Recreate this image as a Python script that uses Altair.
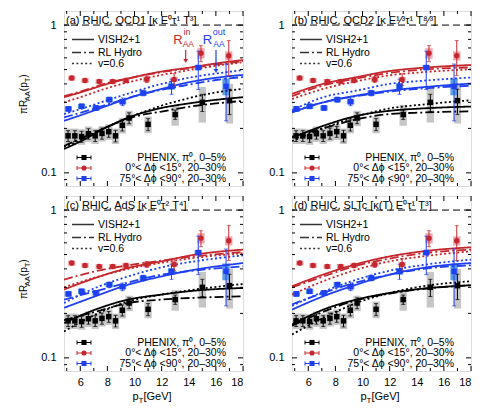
import altair as alt
import pandas as pd

# ---------------- values ----------------
# PHENIX pi0 R_AA, 0-5 %
k_pt = [5.1, 5.6, 6.1, 6.6, 7.1, 7.6, 8.1, 8.6, 9.1, 9.6, 11.0, 13.0, 15.0, 17.0]
k_val = [0.178, 0.178, 0.176, 0.184, 0.178, 0.185, 0.190, 0.178, 0.210, 0.235, 0.213, 0.248, 0.300, 0.308]
k_err = [0.015, 0.015, 0.015, 0.015, 0.015, 0.016, 0.016, 0.016, 0.018, 0.020, 0.020, 0.018, 0.040, 0.060]
k_sys = [0.12, 0.12, 0.12, 0.12, 0.12, 0.12, 0.12, 0.12, 0.12, 0.12, 0.13, 0.16, 0.27, 0.30]
# in-plane 0-15 deg, 20-30 %
r_pt = [5.37, 6.35, 7.4, 8.39, 9.37, 10.9, 12.92, 14.9, 16.95]
r_val = [0.438, 0.422, 0.415, 0.415, 0.422, 0.429, 0.429, 0.645, 0.620]
r_err = [0.012, 0.012, 0.012, 0.013, 0.014, 0.020, 0.040, 0.080, 0.165]
r_sys = [0.04, 0.04, 0.04, 0.04, 0.04, 0.04, 0.04, 0.08, 0.07]
# out-of-plane 75-90 deg, 20-30 %
b_pt = [5.12, 6.1, 7.16, 8.14, 9.12, 10.64, 12.73, 14.7, 16.75]
b_val = [0.271, 0.282, 0.275, 0.313, 0.303, 0.347, 0.385, 0.516, 0.385]
b_err = [0.010, 0.010, 0.010, 0.012, 0.018, 0.015, 0.045, 0.150, 0.160]
b_sys = [0.04, 0.04, 0.04, 0.04, 0.04, 0.04, 0.05, 0.04, 0.13]

STYLES = ["VISH2+1", "RL Hydro", "v=0.6"]

# model curves, panel (a) QCD1
pt_a = [4.8, 6, 8, 10, 12, 14, 16, 18]
a_black = {"VISH2+1": [0.145, 0.163, 0.205, 0.245, 0.275, 0.295, 0.312, 0.325],
           "RL Hydro": [0.152, 0.170, 0.205, 0.240, 0.260, 0.280, 0.295, 0.307],
           "v=0.6": [0.150, 0.165, 0.205, 0.245, 0.285, 0.320, 0.350, 0.370]}
a_red = {"VISH2+1": [0.325, 0.350, 0.400, 0.445, 0.485, 0.515, 0.550, 0.580],
         "RL Hydro": [0.330, 0.355, 0.405, 0.445, 0.480, 0.510, 0.540, 0.570],
         "v=0.6": [0.300, 0.325, 0.375, 0.420, 0.460, 0.495, 0.530, 0.560]}
a_blue = {"VISH2+1": [0.225, 0.245, 0.285, 0.330, 0.370, 0.410, 0.440, 0.460],
          "RL Hydro": [0.237, 0.255, 0.290, 0.330, 0.365, 0.395, 0.425, 0.445],
          "v=0.6": [0.250, 0.270, 0.310, 0.355, 0.400, 0.440, 0.470, 0.495]}

# panels (b), (c), (d)
pt_bcd = [4.8, 7.1, 9.55, 12.0, 14.45, 18.0]
b_black_c = {"VISH2+1": [0.173, 0.208, 0.243, 0.263, 0.273, 0.281],
             "RL Hydro": [0.176, 0.200, 0.230, 0.250, 0.256, 0.261],
             "v=0.6": [0.164, 0.200, 0.240, 0.273, 0.290, 0.310]}
b_red_c = {"VISH2+1": [0.342, 0.400, 0.444, 0.489, 0.514, 0.537],
           "RL Hydro": [0.330, 0.390, 0.435, 0.475, 0.500, 0.517],
           "v=0.6": [0.316, 0.370, 0.417, 0.457, 0.480, 0.502]}
b_blue_c = {"VISH2+1": [0.256, 0.300, 0.333, 0.360, 0.380, 0.402],
            "RL Hydro": [0.260, 0.300, 0.330, 0.355, 0.372, 0.389],
            "v=0.6": [0.265, 0.325, 0.360, 0.400, 0.420, 0.442]}

c_black = {"VISH2+1": [0.172, 0.212, 0.248, 0.268, 0.285, 0.297],
           "RL Hydro": [0.180, 0.205, 0.235, 0.248, 0.255, 0.261],
           "v=0.6": [0.151, 0.196, 0.241, 0.268, 0.290, 0.316]}
c_red = {"VISH2+1": [0.290, 0.347, 0.406, 0.450, 0.499, 0.540],
         "RL Hydro": [0.338, 0.385, 0.423, 0.455, 0.486, 0.520],
         "v=0.6": [0.300, 0.350, 0.400, 0.440, 0.475, 0.510]}
c_blue = {"VISH2+1": [0.218, 0.261, 0.313, 0.356, 0.395, 0.438],
          "RL Hydro": [0.248, 0.282, 0.324, 0.366, 0.390, 0.416],
          "v=0.6": [0.235, 0.297, 0.356, 0.410, 0.450, 0.494]}

d_black = {"VISH2+1": [0.168, 0.212, 0.248, 0.275, 0.294, 0.310],
           "RL Hydro": [0.165, 0.205, 0.245, 0.272, 0.293, 0.310],
           "v=0.6": [0.144, 0.186, 0.235, 0.275, 0.305, 0.330]}
d_red = {"VISH2+1": [0.305, 0.366, 0.431, 0.486, 0.526, 0.560],
         "RL Hydro": [0.300, 0.355, 0.420, 0.470, 0.510, 0.540],
         "v=0.6": [0.268, 0.330, 0.395, 0.450, 0.486, 0.526]}
d_blue = {"VISH2+1": [0.212, 0.261, 0.313, 0.366, 0.406, 0.438],
          "RL Hydro": [0.230, 0.275, 0.324, 0.366, 0.400, 0.423],
          "v=0.6": [0.225, 0.280, 0.338, 0.389, 0.425, 0.462]}

panel_labels = {
    "a": "(a) RHIC, QCD1 [\u03ba E\u2070\u03c4\u00b9 T\u00b3]",
    "b": "(b) RHIC, QCD2 [\u03ba E\u00b9\u2044\u00b3\u03c4\u00b9 T\u2078\u2044\u00b3]",
    "c": "(c) RHIC, AdS [\u03ba E\u2070\u03c4\u00b2 T\u2074]",
    "d": "(d) RHIC, SLTc [\u03ba(T) E\u2070\u03c4\u00b9 T\u00b3]",
}
data_labels = ["PHENIX, \u03c0\u2070, 0\u20135%",
               "0\u00b0< \u0394\u03d5 <15\u00b0, 20\u201330%",
               "75\u00b0< \u0394\u03d5 <90\u00b0, 20\u201330%"]

x_major = [6, 8, 10, 12, 14, 16, 18]
x_minor = [5, 7, 9, 11, 13, 15, 17]
y_major = [0.1, 1.0]
y_minor = [0.09, 0.2, 0.3, 0.4, 0.5, 0.6, 0.7, 0.8, 0.9]

# ---------------- styling ----------------
FONT = "Liberation Sans"
W, H = 179, 175
RED = "#c4282e"
BLUE = "#1f3ff0"
GRPS = ["k", "r", "b"]
LINE_COLORS = ["#000000", RED, BLUE]
BOX_COLORS = ["#c6c6c6", "#f2a4ab", "#5a9ee4"]
DASHES = [[1, 0], [9, 3, 2, 3], [2, 2.4]]

xs = alt.Scale(domain=[4.8, 18], nice=False, zero=False)
ys = alt.Scale(type="log", domain=[0.0815, 1.245], nice=False)

# ---------------- tables ----------------
rows = []
for g, pts, vals, errs, syss in (("k", k_pt, k_val, k_err, k_sys),
                                 ("r", r_pt, r_val, r_err, r_sys),
                                 ("b", b_pt, b_val, b_err, b_sys)):
    for p, v, e, s in zip(pts, vals, errs, syss):
        rows.append({"grp": g, "pt": p, "val": v, "lo": v - e, "hi": v + e,
                     "slo": v * (1 - s), "shi": v * (1 + s),
                     "x1": p - 0.27, "x2": p + 0.27})
pts_df = pd.DataFrame(rows)

curve_sets = {
    "a": (pt_a, a_black, a_red, a_blue),
    "b": (pt_bcd, b_black_c, b_red_c, b_blue_c),
    "c": (pt_bcd, c_black, c_red, c_blue),
    "d": (pt_bcd, d_black, d_red, d_blue),
}


def curve_df(p):
    grid, kk, rr, bb = curve_sets[p]
    out = []
    for g, dct in (("k", kk), ("r", rr), ("b", bb)):
        for st in STYLES:
            for x, v in zip(grid, dct[st]):
                out.append({"grp": g, "style": st, "pt": x, "val": v})
    return pd.DataFrame(out)


ONE = pd.DataFrame({"z": [0]})


def txt(t, x, y, size=11, color="black", align="left", baseline="middle", angle=0):
    return alt.Chart(pd.DataFrame({"t": [t]})).mark_text(
        align=align, baseline=baseline, fontSize=size, color=color, angle=angle, font=FONT
    ).encode(text="t:N", x=alt.value(x), y=alt.value(y))


def vrule(x, y1, y2, color="black", width=1.0, dash=None):
    kw = dict(color=color, strokeWidth=width)
    if dash:
        kw["strokeDash"] = dash
    return alt.Chart(ONE).mark_rule(**kw).encode(x=alt.value(x), y=alt.value(y1), y2=alt.value(y2))


def hrule(x1, x2, y, color="black", width=1.0, dash=None):
    kw = dict(color=color, strokeWidth=width)
    if dash:
        kw["strokeDash"] = dash
    return alt.Chart(ONE).mark_rule(**kw).encode(x=alt.value(x1), x2=alt.value(x2), y=alt.value(y))


def panel(p, bottom, left):
    if bottom:
        x_axis = alt.Axis(values=x_major, title=None, ticks=False, domain=False, grid=False,
                          labelPadding=5, labelFontSize=11, labelFont=FONT, labelColor="black")
    else:
        x_axis = None
    y_axis = alt.Axis(values=y_major, format="~g", title=None, ticks=False, domain=False, grid=False,
                      labelPadding=8, labelFontSize=11, labelFont=FONT, labelColor="black")

    def X(f):
        return alt.X(f, scale=xs, axis=x_axis)

    def Y(f):
        return alt.Y(f, scale=ys, axis=y_axis)

    colr = alt.Color("grp:N", scale=alt.Scale(domain=GRPS, range=LINE_COLORS), legend=None)
    base = alt.Chart(pts_df)
    L = []
    # systematic boxes
    L.append(base.mark_rect().encode(
        x=X("x1:Q"), x2="x2:Q", y=Y("slo:Q"), y2="shi:Q",
        fill=alt.Fill("grp:N", scale=alt.Scale(domain=GRPS, range=BOX_COLORS), legend=None)))
    # unity line and panel label
    L.append(alt.Chart(pd.DataFrame({"v": [1.0]})).mark_rule(color="black", strokeWidth=1, strokeDash=[7, 4])
             .encode(y=Y("v:Q")))
    L.append(alt.Chart(pd.DataFrame({"v": [1.0], "t": [panel_labels[p]]})).mark_text(
        align="left", baseline="alphabetic", fontSize=11, font=FONT, dy=-1.5, color="black")
        .encode(x=alt.value(2), y=Y("v:Q"), text="t:N"))
    # model curves
    L.append(alt.Chart(curve_df(p)).mark_line(strokeWidth=1.8, interpolate="monotone", clip=True).encode(
        x=X("pt:Q"), y=Y("val:Q"), color=colr,
        strokeDash=alt.StrokeDash("style:N", scale=alt.Scale(domain=STYLES, range=DASHES), legend=None)))
    # data: error bars, caps, markers
    L.append(base.mark_rule(strokeWidth=1).encode(x=X("pt:Q"), y=Y("lo:Q"), y2="hi:Q", color=colr))
    for f in ("lo", "hi"):
        L.append(base.mark_tick(orient="horizontal", size=4, thickness=1).encode(
            x=X("pt:Q"), y=Y(f + ":Q"), color=colr))
    L.append(base.mark_point(filled=True, opacity=1, size=30).encode(
        x=X("pt:Q"), y=Y("val:Q"), color=colr,
        shape=alt.Shape("grp:N", scale=alt.Scale(domain=GRPS, range=["square", "circle", "square"]), legend=None)))

    # inward ticks on all four sides
    for vals, ln in ((x_major, 5), (x_minor, 3)):
        d = pd.DataFrame({"v": vals})
        L.append(alt.Chart(d).mark_rule(color="black", strokeWidth=1).encode(
            x=X("v:Q"), y=alt.value(H), y2=alt.value(H - ln)))
        L.append(alt.Chart(d).mark_rule(color="black", strokeWidth=1).encode(
            x=X("v:Q"), y=alt.value(0), y2=alt.value(ln)))
    for vals, ln in ((y_major, 5), (y_minor, 3)):
        d = pd.DataFrame({"v": vals})
        L.append(alt.Chart(d).mark_rule(color="black", strokeWidth=1).encode(
            y=Y("v:Q"), x=alt.value(0), x2=alt.value(ln)))
        L.append(alt.Chart(d).mark_rule(color="black", strokeWidth=1).encode(
            y=Y("v:Q"), x=alt.value(W - ln), x2=alt.value(W)))

    # line-style legend (top left)
    for st, dash, yy in zip(STYLES, DASHES, (28.5, 41.5, 52.5)):
        L.append(hrule(8, 30, yy, color="#333333", width=1.6, dash=dash))
        L.append(txt(st, 34, yy, size=10.5))
    # data legend (bottom right)
    for g, lab, yy, shp in zip(GRPS, data_labels, (146.5, 157, 167.5), ("square", "circle", "square")):
        c = LINE_COLORS[GRPS.index(g)]
        L.append(hrule(13, 27, yy, color=c))
        L.append(vrule(13, yy - 2, yy + 2, color=c))
        L.append(vrule(27, yy - 2, yy + 2, color=c))
        L.append(alt.Chart(ONE).mark_point(filled=True, opacity=1, size=26, shape=shp, color=c)
                 .encode(x=alt.value(20), y=alt.value(yy)))
        L.append(txt(lab, 162, yy, size=10.5, align="right"))

    if p == "a":
        L.append(txt("R", 114, 33.3, size=13, color=RED, align="center", baseline="alphabetic"))
        L.append(txt("in", 119.5, 24.3, size=9, color=RED, baseline="alphabetic"))
        L.append(txt("AA", 118.7, 35.5, size=8.5, color=RED, baseline="alphabetic"))
        L.append(vrule(121.7, 39, 49, color=RED, width=1.2))
        L.append(alt.Chart(ONE).mark_point(filled=True, opacity=1, size=22, shape="triangle-down", color=RED)
                 .encode(x=alt.value(121.7), y=alt.value(50)))
        L.append(txt("R", 143.5, 33.3, size=13, color=BLUE, align="center", baseline="alphabetic"))
        L.append(txt("out", 148.7, 24.3, size=9, color=BLUE, baseline="alphabetic"))
        L.append(txt("AA", 149.3, 35.5, size=8.5, color=BLUE, baseline="alphabetic"))
        L.append(vrule(152, 39, 59, color=BLUE, width=1.2))
        L.append(alt.Chart(ONE).mark_point(filled=True, opacity=1, size=22, shape="triangle-down", color=BLUE)
                 .encode(x=alt.value(152), y=alt.value(60)))

    if left:
        xb, xs_ = -37, -34.3
        L.append(txt("\u03c0R", xb, 103, size=10, angle=270, baseline="alphabetic"))
        L.append(txt("AA", xs_, 90.2, size=7.5, angle=270, baseline="alphabetic"))
        L.append(txt("(p", xb, 80.2, size=10, angle=270, baseline="alphabetic"))
        L.append(txt("T", xs_, 71.3, size=7.5, angle=270, baseline="alphabetic"))
        L.append(txt(")", xb, 66.7, size=10, angle=270, baseline="alphabetic"))
    if bottom:
        yb = H + 29
        L.append(txt("p", 68.5, yb, size=11, baseline="alphabetic"))
        L.append(txt("T", 74.6, yb + 3, size=8, baseline="alphabetic"))
        L.append(txt(" [GeV]", 79.5, yb, size=11, baseline="alphabetic"))

    return alt.layer(*L).properties(width=W, height=H)


row1 = alt.hconcat(panel("a", False, True), panel("b", False, False), spacing=24)
row2 = alt.hconcat(panel("c", True, True), panel("d", True, False), spacing=24)
chart = alt.vconcat(row1, row2, spacing=8).properties(
    padding={"left": 10, "top": 2, "right": 4, "bottom": 2}
).configure_view(stroke="black", strokeWidth=1).configure(font=FONT)

chart.save("out.html", embed_options={"renderer": "svg", "actions": False})
